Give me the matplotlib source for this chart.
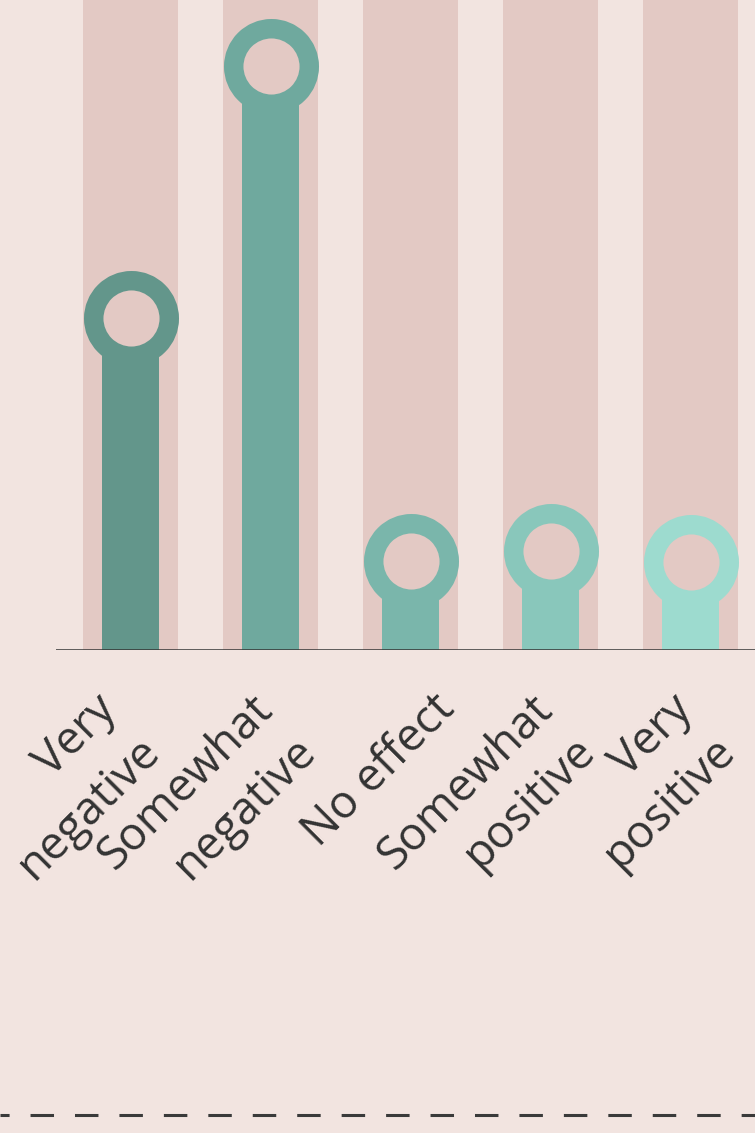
import matplotlib
matplotlib.use('Agg')
import matplotlib.pyplot as plt
import matplotlib.transforms as mtransforms
from matplotlib.lines import Line2D

# 응답 분포 (%)
categories = ['Very\nnegative', 'Somewhat\nnegative', 'No effect', 'Somewhat\npositive', 'Very\npositive']
values = [27.8, 49.0, 7.5, 8.3, 7.4]
bar_colors = ['#63968B', '#6FA99E', '#7AB6AB', '#89C7BB', '#9DDBCF']

bg = '#F2E4E0'
band = '#E3C9C4'
dark = '#333333'

plt.rcParams['font.family'] = ['Open Sans', 'DejaVu Sans']
plt.rcParams['lines.scale_dashes'] = False

W, H, DPI = 755, 1133, 100
fig = plt.figure(figsize=(W / DPI, H / DPI), dpi=DPI, facecolor=bg)

# 축 위치 (픽셀 기준)
left, base = 56, 650
ax = fig.add_axes([left / W, (H - base) / H, 1 - left / W, base / H])
ax.set_facecolor(bg)

x = list(range(len(categories)))
ymax = 54.5
ax.set_xlim(-(130.5 - left) / 140, (W - 130.5) / 140)
ax.set_ylim(0, ymax)

# 배경 띠
ax.bar(x, [ymax] * len(x), width=95 / 140, color=band, zorder=1)
# 막대
ax.bar(x, values, width=57 / 140, color=bar_colors, zorder=2)
# 끝의 고리
for xi, v, c in zip(x, values, bar_colors):
    ax.plot(xi, v, marker='o', ms=54.4, mew=14, mfc=band, mec=c, zorder=3, clip_on=False)

ax.axhline(0, color=dark, lw=1.8, zorder=4)

for s in ax.spines.values():
    s.set_visible(False)
ax.set_yticks([])
ax.set_xticks(x)
ax.set_xticklabels(categories, rotation=45, ha='right', va='top',
                   fontsize=33, color=dark, multialignment='right', linespacing=1.4)
ax.tick_params(axis='x', length=0, pad=26)
# 라벨 위치 보정 (픽셀)
nudge = [-16, 0, 0, 0, 0]
for lab, dx in zip(ax.get_xticklabels(), nudge):
    off = mtransforms.ScaledTranslation((54 + dx) / DPI, 0, fig.dpi_scale_trans)
    lab.set_transform(lab.get_transform() + off)

# 아래 점선
y_dash = 1 - 1114.5 / H
ln = Line2D([0, 1], [y_dash, y_dash], transform=fig.transFigure, color='#3A3A3A', lw=2.2,
            linestyle=(14.4 * 0.72, (16.9, 15.1)))
fig.add_artist(ln)

fig.savefig('out.png', dpi=DPI, facecolor=bg)
